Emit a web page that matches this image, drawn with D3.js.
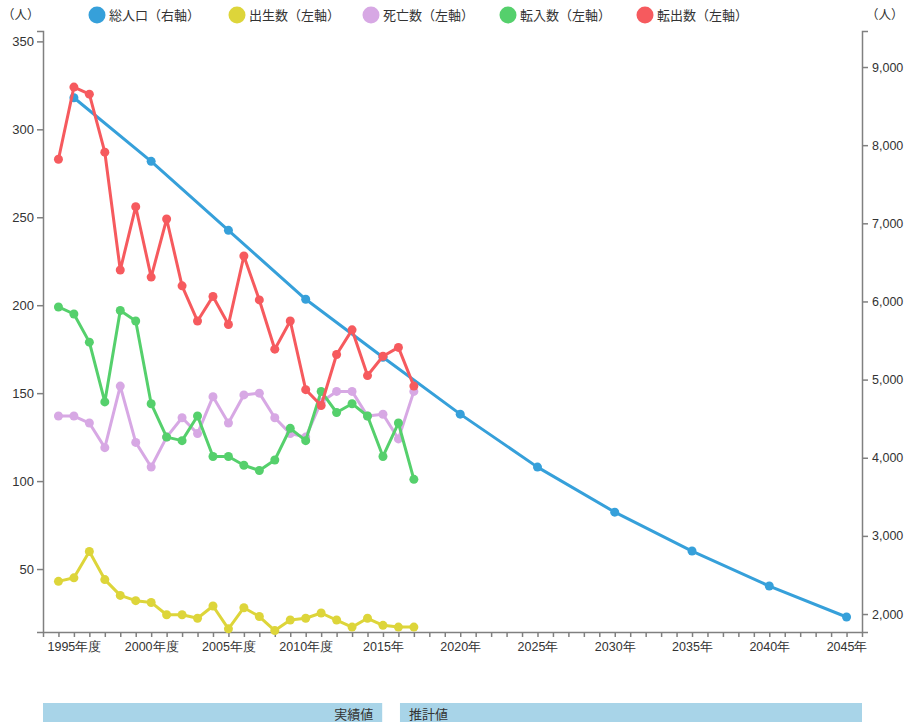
<!DOCTYPE html>
<html>
<head>
<meta charset="utf-8">
<script src="https://cdn.jsdelivr.net/npm/d3@7"></script>
<style>
  html, body { margin: 0; padding: 0; background: #fff; }
  svg { display: block; font-family: "DejaVu Sans", "Noto Sans CJK JP", sans-serif; }
</style>
</head>
<body>
<svg id="chart" width="914" height="722"></svg>
<script>
// ---- data ----
const years = d3.range(1994, 2018); // 1994..2017 actual values
const births   = [43, 45, 60, 44, 35, 32, 31, 24, 24, 22, 29, 16, 28, 23, 15, 21, 22, 25, 21, 17, 22, 18, 17, 17];
const deaths   = [137, 137, 133, 119, 154, 122, 108, 125, 136, 127, 148, 133, 149, 150, 136, 127, 125, 145, 151, 151, 137, 138, 124, 151];
const movesIn  = [199, 195, 179, 145, 197, 191, 144, 125, 123, 137, 114, 114, 109, 106, 112, 130, 123, 151, 139, 144, 137, 114, 133, 101];
const movesOut = [283, 324, 320, 287, 220, 256, 216, 249, 211, 191, 205, 189, 228, 203, 175, 191, 152, 143, 172, 186, 160, 171, 176, 154];
const popYears = [1995, 2000, 2005, 2010, 2015, 2020, 2025, 2030, 2035, 2040, 2045];
const population = [8607, 7793, 6910, 6028, 5286, 4558, 3880, 3304, 2806, 2358, 1962];

const xLabelYears = [1995, 2000, 2005, 2010, 2015, 2020, 2025, 2030, 2035, 2040, 2045];
const xLabels = ["1995年度", "2000年度", "2005年度", "2010年度", "2015年", "2020年", "2025年", "2030年", "2035年", "2040年", "2045年"];
const leftTicks = [50, 100, 150, 200, 250, 300, 350];
const rightTicks = [2000, 3000, 4000, 5000, 6000, 7000, 8000, 9000];

const seriesNames = ["総人口（右軸）", "出生数（左軸）", "死亡数（左軸）", "転入数（左軸）", "転出数（左軸）"];
const seriesColors = ["#36a0da", "#ddd53a", "#d7a8e4", "#55d06c", "#f65a5e"];
const periodLabels = ["実績値", "推計値"];
const periodBounds = [[1993, 2014.95], [2016.1, 2046]];

// ---- layout ----
const svg = d3.select("#chart");
const plotLeft = 43, plotRight = 862, plotTop = 31, plotBottom = 632;

const x = d3.scaleLinear().domain([1993, 2046]).range([plotLeft, plotRight]);
const yL = d3.scaleLinear().domain([14.2, 355.9]).range([plotBottom, plotTop]);
const yR = d3.scaleLinear().domain([1770, 9461]).range([plotBottom, plotTop]);

const axisColor = "#808080";
const textColor = "#333";

// x axis
const labelMap = new Map(xLabelYears.map((y, i) => [y, xLabels[i]]));
const gx = svg.append("g")
  .attr("transform", `translate(0,${plotBottom})`)
  .call(d3.axisBottom(x).tickValues(d3.range(1993, 2047)).tickSize(5).tickSizeOuter(0)
    .tickFormat(d => labelMap.get(d) || ""));
gx.selectAll("text").attr("font-size", 12.5).attr("fill", textColor).attr("dy", "0.9em");

// left axis
const gl = svg.append("g")
  .attr("transform", `translate(${plotLeft},0)`)
  .call(d3.axisLeft(yL).tickValues(leftTicks).tickSize(6).tickSizeOuter(6));
gl.selectAll("text").attr("font-size", 13).attr("fill", textColor);

// right axis
const gr = svg.append("g")
  .attr("transform", `translate(${plotRight},0)`)
  .call(d3.axisRight(yR).tickValues(rightTicks).tickSize(6).tickSizeOuter(6).tickFormat(d3.format(",")));
gr.selectAll("text").attr("font-size", 12.5).attr("fill", textColor).attr("x", 10);

[gx, gl, gr].forEach(g => {
  g.selectAll("path.domain").attr("stroke", axisColor).attr("stroke-width", 1.5);
  g.selectAll(".tick line").attr("stroke", axisColor).attr("stroke-width", 1.5);
});

// unit labels
svg.append("text").attr("x", 2).attr("y", 19).attr("font-size", 12.5).attr("fill", textColor).text("（人）");
svg.append("text").attr("x", 866).attr("y", 19).attr("font-size", 12.5).attr("fill", textColor).text("（人）");

// series
const series = [
  { xs: popYears, ys: population, scale: yR },
  { xs: years, ys: births, scale: yL },
  { xs: years, ys: deaths, scale: yL },
  { xs: years, ys: movesIn, scale: yL },
  { xs: years, ys: movesOut, scale: yL },
];

series.forEach((s, i) => {
  const pts = s.xs.map((yr, j) => [yr, s.ys[j]]);
  const line = d3.line().x(d => x(d[0])).y(d => s.scale(d[1]));
  const g = svg.append("g");
  g.append("path").datum(pts).attr("d", line)
    .attr("fill", "none").attr("stroke", seriesColors[i]).attr("stroke-width", 3)
    .attr("stroke-linejoin", "round");
  g.selectAll("circle").data(pts).enter().append("circle")
    .attr("cx", d => x(d[0])).attr("cy", d => s.scale(d[1])).attr("r", 4.5)
    .attr("fill", seriesColors[i]);
});

// legend
const legendX = [97, 237, 371, 508, 645];
seriesNames.forEach((name, i) => {
  svg.append("circle").attr("cx", legendX[i]).attr("cy", 15).attr("r", 8.5).attr("fill", seriesColors[i]);
  svg.append("text").attr("x", legendX[i] + 12).attr("y", 15).attr("dy", "0.35em")
    .attr("font-size", 13).attr("fill", textColor).text(name);
});

// period bars
const barTop = 703, barH = 20;
periodBounds.forEach((b, i) => {
  const x0 = x(b[0]), x1 = x(b[1]);
  svg.append("rect").attr("x", x0).attr("y", barTop).attr("width", x1 - x0).attr("height", barH).attr("fill", "#a8d4e8");
  svg.append("text")
    .attr("x", i === 0 ? x1 - 9 : x0 + 9)
    .attr("y", barTop + 11).attr("dy", "0.35em")
    .attr("text-anchor", i === 0 ? "end" : "start")
    .attr("font-size", 13).attr("fill", textColor).text(periodLabels[i]);
});
</script>
</body>
</html>
